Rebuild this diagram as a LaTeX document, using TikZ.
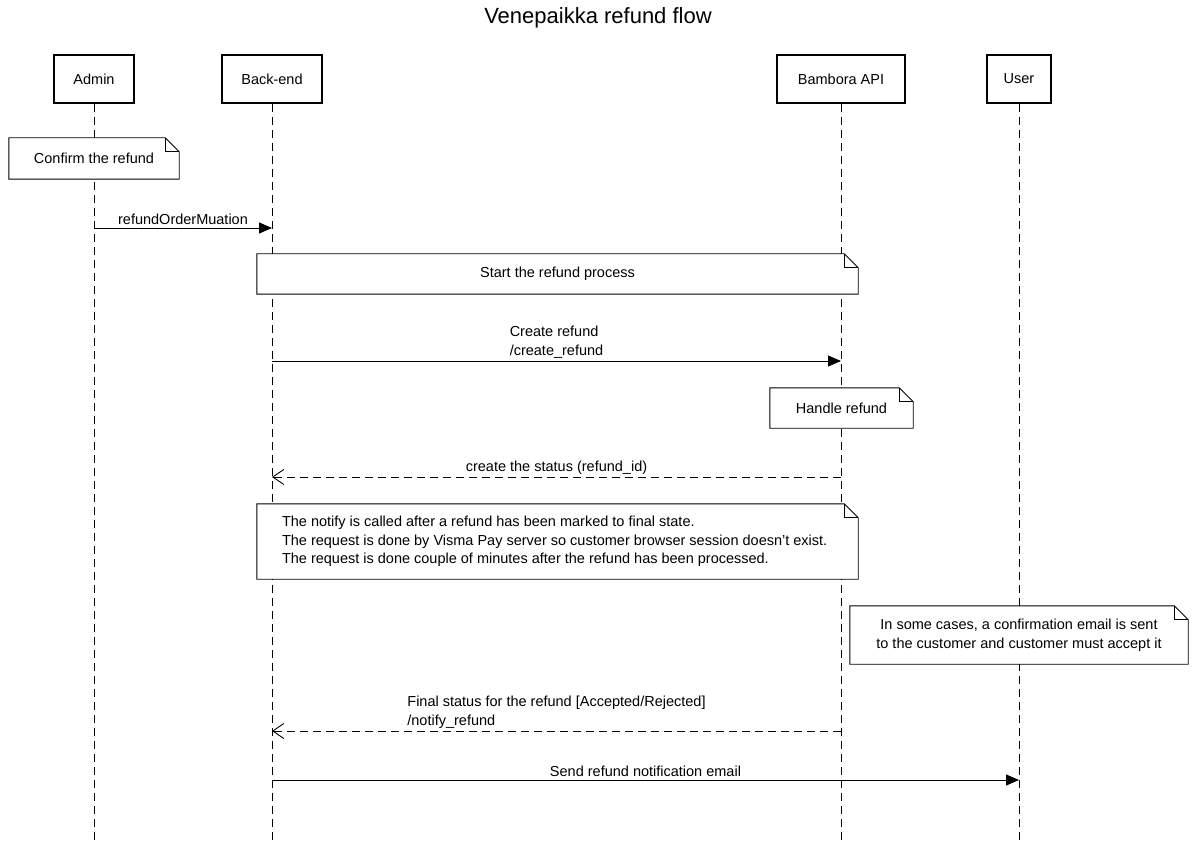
\documentclass[tikz,border=0pt]{standalone}
\usepackage{fontspec}
\setmainfont{Liberation Sans}
\usetikzlibrary{arrows.meta}
\begin{document}
\begin{tikzpicture}[x=1pt, y=-1pt]
	\tikzset{acteur/.style={rectangle, draw=black, line width=2.4pt, fill=white, font=\fontsize{14.5}{17}\selectfont},
		ligne/.style={draw=black, dash pattern=on 8pt off 5pt, line width=0.9pt},
		note/.style={rectangle, fill=white, align=center, inner sep=0pt, font=\fontsize{14.5}{18.5}\selectfont},
		fleche/.style={-{Triangle[length=13pt, width=11pt]}, line width=0.9pt},
		retour/.style={-{Straight Barb[length=11pt, width=15pt]}, dash pattern=on 8pt off 5pt, line width=0.9pt},
		texte/.style={align=left, inner sep=2.5pt, font=\fontsize{14.5}{19}\selectfont}};

	\useasboundingbox (0,0) rectangle (1197,842);

	\node[font=\fontsize{22}{26}\selectfont] (titre) at (598,18) {Venepaikka refund flow};

	\node[acteur, minimum width=80,  minimum height=48] (admin)   at (  94, 79) {Admin};
	\node[acteur, minimum width=100, minimum height=48] (backend) at ( 272, 79) {Back-end};
	\node[acteur, minimum width=128, minimum height=48] (bambora) at ( 841, 79) {Bambora API};
	\node[acteur, minimum width=64,  minimum height=48] (user)    at (1019, 79) {User};

	\coordinate (fin) at (0,842);
	\foreach \a in {admin, backend, bambora, user}
		\draw[ligne] (\a) -- (\a |- fin);

	\node[note, minimum width=170, minimum height=41] (n1) at (  94, 158.5) {Confirm the refund};
	\node[note, minimum width=601, minimum height=40] (n2) at ( 557.5, 274) {Start the refund process};
	\node[note, minimum width=143, minimum height=40] (n3) at ( 841.5, 408) {Handle refund};
	\node[note, minimum width=601, minimum height=75] (n4) at ( 557.5, 541.5) {};
	\node[note, align=left, anchor=west] (n4t) at ([xshift=25pt]n4.west)
		{The notify is called after a refund has been marked to final state.\\
		The request is done by Visma Pay server so customer browser session doesn't exist.\\
		The request is done couple of minutes after the refund has been processed.};
	\node[note, minimum width=338, minimum height=58] (n5) at (1019, 635)
		{In some cases, a confirmation email is sent\\to the customer and customer must accept it};

	\foreach \n in {n1, n2, n3, n4, n5} {
		\draw[line width=0.9pt] (\n.north west) -- ([xshift=-14pt]\n.north east) -- ([yshift=-14pt]\n.north east) -- (\n.south east) -- (\n.south west) -- cycle;
		\draw[line width=0.9pt] ([xshift=-14pt]\n.north east) -- ([xshift=-14pt, yshift=-14pt]\n.north east) -- ([yshift=-14pt]\n.north east);
	}

	\coordinate (m1) at (0,228);
	\coordinate (m2) at (0,361);
	\coordinate (m3) at (0,477);
	\coordinate (m4) at (0,731);
	\coordinate (m5) at (0,780);

	\draw[fleche] (admin |- m1) to node[texte, above] {refundOrderMuation} (backend |- m1);
	\draw[fleche] (backend |- m2) to node[texte, above] {Create refund\\/create\_refund} (bambora |- m2);
	\draw[retour] (bambora |- m3) to node[texte, above] {create the status (refund\_id)} (backend |- m3);
	\draw[retour] (bambora |- m4) to node[texte, above] {Final status for the refund [Accepted/Rejected]\\/notify\_refund} (backend |- m4);
	\draw[fleche] (backend |- m5) to node[texte, above] {Send refund notification email} (user |- m5);

\end{tikzpicture}
\end{document}
